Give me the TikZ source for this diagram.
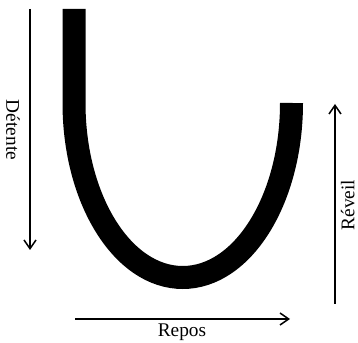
\documentclass[tikz,border=0pt]{standalone}
\usepackage{fontspec}
\setmainfont{Liberation Serif}
\usetikzlibrary{arrows.meta}
\begin{document}
\begin{tikzpicture}
\useasboundingbox (0,0) rectangle (10.74,10.29);
%\draw[step=0.5cm,gray,very thin] (0,0) grid (10.74,10.29); %background grid
\tikzset{lbl/.style={font=\fontsize{16.5}{19}\selectfont,inner sep=1pt},
  flow/.style={line width=1.3pt},
  >={Straight Barb[length=2.6mm,width=3.6mm]}}
\draw[black,line width=0.69cm] (2.22,10.02) -- (2.22,7.20)
  arc[start angle=180,end angle=360,x radius=3.2625,y radius=5.235];
\coordinate (dtop) at (0.9,10.02);
\coordinate (dbot) at (0.9,2.79);
\coordinate (rbot) at (10.05,1.17);
\coordinate (rtop) at (10.05,7.17);
\coordinate (pleft) at (2.25,0.72);
\coordinate (pright) at (8.70,0.72);
\draw[->,flow] (dtop) -- (dbot);
\draw[->,flow] (rbot) -- (rtop);
\draw[->,flow] (pleft) -- (pright);
\node[lbl,rotate=-90] (detente) at (0.39,6.39) {Détente};
\node[lbl,rotate=90] (reveil) at (10.43,4.14) {Réveil};
\node[lbl] (repos) at (5.46,0.32) {Repos};
\end{tikzpicture}
\end{document}
